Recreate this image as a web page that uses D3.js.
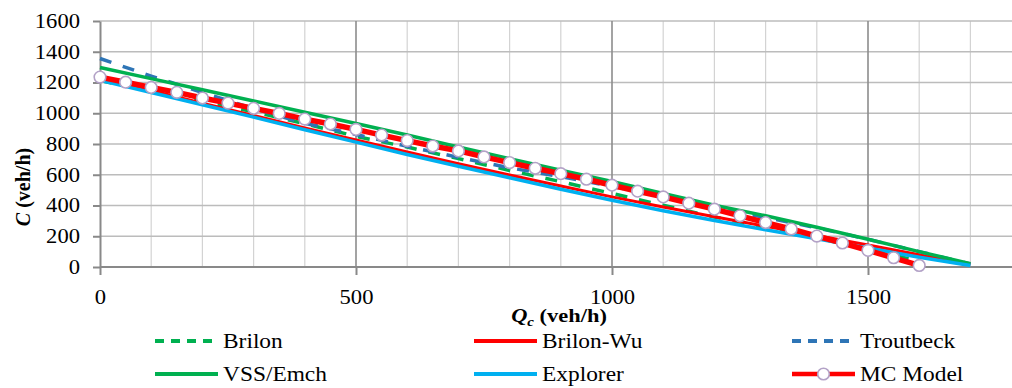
<!DOCTYPE html>
<html>
<head>
<meta charset="utf-8">
<script src="https://cdn.jsdelivr.net/npm/d3@7"></script>
<style>
  html, body { margin: 0; padding: 0; background: #fff; overflow: hidden; }
  svg { display: block; }
  text { font-family: "Liberation Serif", "DejaVu Serif", serif; fill: #000; }
</style>
</head>
<body>
<svg id="chart" width="1012" height="388"></svg>
<script>
// Conflicting flow Qc (veh/h) for the model curves
const qc = [0, 100, 200, 300, 400, 500, 600, 700, 800, 900, 1000, 1100, 1200, 1300, 1400, 1500, 1600, 1700];
// Capacity C (veh/h) for each model
const brilon    = [1212, 1145, 1078, 1010, 932, 850, 780, 705, 628, 555, 478, 402, 325, 258, 190, 115, 38, null];
const brilonWu  = [1232, 1148, 1065, 985, 905, 826, 748, 672, 598, 527, 456, 390, 327, 265, 205, 143, 80, 18];
const troutbeck = [1356, 1242, 1135, 1030, 935, 862, 785, 713, 645, 588, 525, 455, 388, 322, 255, 180, 100, 20];
const vssEmch   = [1298, 1225, 1153, 1080, 1006, 933, 858, 780, 705, 630, 556, 478, 402, 333, 258, 180, 100, 22];
const explorer  = [1215, 1135, 1055, 975, 893, 812, 732, 655, 580, 506, 434, 366, 302, 242, 183, 123, 64, 10];
// MC model, evaluated every 50 veh/h
const qcMC = [0, 50, 100, 150, 200, 250, 300, 350, 400, 450, 500, 550, 600, 650, 700, 750, 800, 850, 900, 950,
              1000, 1050, 1100, 1150, 1200, 1250, 1300, 1350, 1400, 1450, 1500, 1550, 1600];
const mcModel = [1235, 1202, 1168, 1136, 1099, 1066, 1032, 999, 962, 930, 895, 858, 822, 787, 755, 716, 679, 642, 607, 571,
                 532, 493, 456, 415, 376, 333, 289, 247, 201, 156, 108, 60, 10];

const xTicks = [0, 500, 1000, 1500];
const yTicks = [0, 200, 400, 600, 800, 1000, 1200, 1400, 1600];

const svg = d3.select("#chart");
const plotLeft = 100, plotTop = 21, plotBottom = 267;
const x = d3.scaleLinear().domain([0, 1800]).range([plotLeft, plotLeft + 1800 * 0.512]);
const y = d3.scaleLinear().domain([0, 1600]).range([plotBottom, plotTop]);
const plotRight = x(1800);

// widen serif glyphs horizontally around their anchor point
function widen(sel, sx) {
  sel.each(function () {
    const t = d3.select(this);
    const tx = +t.attr("x") || 0, ty = +t.attr("y") || 0;
    t.attr("x", null).attr("y", null)
      .attr("transform", `translate(${tx},${ty}) scale(${sx},1)`);
  });
}

// grid
const grid = svg.append("g");
d3.range(100, 1800, 100).filter(v => v % 500 !== 0).forEach(v => {
  grid.append("line").attr("x1", x(v)).attr("x2", x(v)).attr("y1", plotTop).attr("y2", plotBottom)
    .attr("stroke", "#d3d3d3").attr("stroke-width", 1.2);
});
yTicks.filter(v => v > 0).forEach(v => {
  grid.append("line").attr("x1", plotLeft).attr("x2", plotRight).attr("y1", y(v)).attr("y2", y(v))
    .attr("stroke", "#bcbcbc").attr("stroke-width", 1.5);
});
xTicks.filter(v => v > 0).forEach(v => {
  grid.append("line").attr("x1", x(v)).attr("x2", x(v)).attr("y1", plotTop).attr("y2", plotBottom)
    .attr("stroke", "#8c8c8c").attr("stroke-width", 1.6);
});

// axes
const fmt = d3.format("d");
const xAxis = svg.append("g").attr("transform", `translate(0,${plotBottom})`)
  .call(d3.axisBottom(x).tickValues(xTicks).tickFormat(fmt).tickSize(8).tickPadding(15).tickSizeOuter(0));
const yAxis = svg.append("g").attr("transform", `translate(${plotLeft},0)`)
  .call(d3.axisLeft(y).tickValues(yTicks).tickFormat(fmt).tickSize(7).tickPadding(13).tickSizeOuter(0));
[xAxis, yAxis].forEach(a => {
  a.select(".domain").attr("stroke", "#898989").attr("stroke-width", 2);
  a.selectAll(".tick line").attr("stroke", "#898989").attr("stroke-width", 2);
  a.selectAll(".tick text").style("font-family", "'Liberation Serif', serif").style("font-size", "20px").attr("fill", "#000");
  widen(a.selectAll(".tick text"), 1.13);
});
xAxis.select(".domain").attr("d", `M${plotLeft},0H${plotRight}`);

// series
const line = d3.line().defined(d => d[1] != null).x(d => x(d[0])).y(d => y(d[1]));
const pairs = (xs, ys) => xs.map((v, i) => [v, ys[i]]);
const series = [
  { name: "Brilon",    data: pairs(qc, brilon),    color: "#00b050", width: 3.5, dash: "12,12" },
  { name: "Brilon-Wu", data: pairs(qc, brilonWu),  color: "#ff0000", width: 3,   dash: null },
  { name: "Troutbeck", data: pairs(qc, troutbeck), color: "#2e75b6", width: 3.5, dash: "12,12" },
  { name: "VSS/Emch",  data: pairs(qc, vssEmch),   color: "#00b050", width: 3.5, dash: null },
  { name: "Explorer",  data: pairs(qc, explorer),  color: "#00b0f0", width: 3.5, dash: null },
  { name: "MC Model",  data: pairs(qcMC, mcModel), color: "#ff0000", width: 5.5, dash: null, marker: true }
];
const plot = svg.append("g");
series.forEach(s => {
  plot.append("path").datum(s.data).attr("d", line).attr("fill", "none")
    .attr("stroke", s.color).attr("stroke-width", s.width)
    .attr("stroke-dasharray", s.dash);
  if (s.marker) {
    plot.selectAll(null).data(s.data).join("circle")
      .attr("cx", d => x(d[0])).attr("cy", d => y(d[1])).attr("r", 5.8)
      .attr("fill", "#fff").attr("stroke", "#b3a2c7").attr("stroke-width", 1.6);
  }
});

// axis titles
const yt = svg.append("text").attr("transform", "translate(30,187) rotate(-90)")
  .attr("text-anchor", "middle").style("font-size", "20px").style("font-weight", "bold");
yt.append("tspan").style("font-style", "italic").text("C");
yt.append("tspan").text(" (veh/h)");

const xt = svg.append("text").attr("x", 559).attr("y", 322)
  .attr("text-anchor", "middle").style("font-size", "19.5px").style("font-weight", "bold");
xt.append("tspan").style("font-style", "italic").text("Q");
xt.append("tspan").style("font-style", "italic").style("font-size", "13px").attr("dy", 4).text("c");
xt.append("tspan").attr("dy", -4).text(" (veh/h)");
widen(xt, 1.15);

// legend
const colX = [155, 474, 792];
const rowY = [341, 374];
const legend = svg.append("g");
series.forEach((s, i) => {
  const lx = colX[i % 3], ly = rowY[Math.floor(i / 3)];
  const g = legend.append("g");
  g.append("line").attr("x1", lx).attr("x2", lx + 63).attr("y1", ly).attr("y2", ly)
    .attr("stroke", s.color).attr("stroke-width", s.marker ? 4.5 : 4)
    .attr("stroke-dasharray", s.dash ? "9,7" : null);
  if (s.marker) {
    g.append("circle").attr("cx", lx + 31.5).attr("cy", ly).attr("r", 5.8)
      .attr("fill", "#fff").attr("stroke", "#b3a2c7").attr("stroke-width", 1.6);
  }
  const t = g.append("text").attr("x", lx + 68).attr("y", ly + 7)
    .style("font-size", "20px").text(s.name);
  widen(t, 1.17);
});
</script>
</body>
</html>
